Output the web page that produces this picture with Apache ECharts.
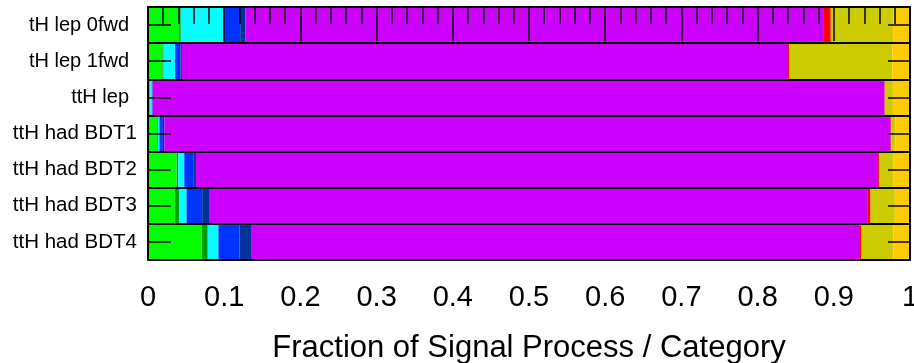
<!DOCTYPE html>
<html>
<head>
<meta charset="utf-8">
<script src="https://cdn.jsdelivr.net/npm/echarts@6/dist/echarts.min.js"></script>
<style>
  html, body { margin: 0; padding: 0; background: #ffffff; }
  #chart { width: 914px; height: 363px; }
</style>
</head>
<body>
<div id="chart"></div>
<script>
// Event categories, top to bottom
const categories = [
  'tH lep 0fwd', 'tH lep 1fwd', 'ttH lep',
  'ttH had BDT1', 'ttH had BDT2', 'ttH had BDT3', 'ttH had BDT4'
];

// Fraction of each signal process in every category (stacked left to right)
const ggH   = [0.041, 0.019,  0.002,  0.012,  0.0376, 0.0354, 0.0705];
const VBF   = [0.002, 0.0015, 0.001,  0.001,  0.002,  0.0052, 0.0079];
const WH    = [0.056, 0.015,  0.002,  0.002,  0.008,  0.010,  0.014];
const ZH    = [0.022, 0.007,  0.0005, 0.0045, 0.0118, 0.0205, 0.0276];
const ggZH  = [0.007, 0.002,  0.0005, 0.002,  0.0035, 0.010,  0.0162];
const ttH   = [0.758, 0.7955, 0.9605, 0.953,  0.8953, 0.8627, 0.797];
const bbH   = [0.010, 0.0015, 0.0005, 0.001,  0.0013, 0.0044, 0.0026];
const tHq   = [0.082, 0.1355, 0.0105, 0.0055, 0.0185, 0.0318, 0.0424];
const tHW   = [0.022, 0.023,  0.0225, 0.019,  0.022,  0.020,  0.0218];

// Bottom axis tick labels, one per 0.1 step
const xTickLabels = ['0', '0.1', '0.2', '0.3', '0.4', '0.5', '0.6', '0.7', '0.8', '0.9', '1'];

const processes = [
  { name: 'ggH',  values: ggH,  color: '#00ff00' },
  { name: 'VBF',  values: VBF,  color: '#009a00' },
  { name: 'WH',   values: WH,   color: '#00ffff' },
  { name: 'ZH',   values: ZH,   color: '#0033ff' },
  { name: 'ggZH', values: ggZH, color: '#003399' },
  { name: 'ttH',  values: ttH,  color: '#cc00ff' },
  { name: 'bbH',  values: bbH,  color: '#ff0000' },
  { name: 'tHq',  values: tHq,  color: '#cccc00' },
  { name: 'tHW',  values: tHW,  color: '#ffcc00' }
];

const FONT = '"Liberation Sans", Arial, Helvetica, sans-serif';
const black = '#000000';

const chart = echarts.init(document.getElementById('chart'), null, { renderer: 'canvas' });

const option = {
  animation: false,
  backgroundColor: '#ffffff',
  textStyle: { fontFamily: FONT },
  grid: {
    left: 148, right: 4, top: 7, bottom: 103,
    containLabel: false,
    outerBoundsMode: 'none'
  },
  xAxis: [
    {
      type: 'value',
      position: 'bottom',
      min: 0, max: 1, interval: 0.1,
      z: 10,
      axisLine: { show: true, onZero: false, lineStyle: { color: black, width: 1.5 } },
      axisTick: { show: false },
      splitLine: { show: false },
      axisLabel: {
        show: true,
        margin: 23,
        fontSize: 29,
        color: black,
        fontFamily: FONT,
        showMinLabel: true,
        showMaxLabel: true,
        formatter: (v, i) => xTickLabels[i]
      },
      name: 'Fraction of Signal Process / Category',
      nameLocation: 'middle',
      nameGap: 73,
      nameTextStyle: { fontSize: 31, color: black, fontFamily: FONT }
    },
    {
      type: 'value',
      position: 'top',
      min: 0, max: 1, interval: 0.1,
      z: 10,
      axisLine: { show: true, onZero: false, lineStyle: { color: black, width: 2 } },
      axisTick: { show: true, inside: true, length: 34, lineStyle: { color: black, width: 1.5 } },
      minorTick: { show: true, splitNumber: 5, length: 17, lineStyle: { color: black, width: 1.5 } },
      axisLabel: { show: false },
      splitLine: { show: false }
    }
  ],
  yAxis: [
    {
      type: 'category',
      data: categories,
      inverse: true,
      position: 'left',
      z: 10,
      axisLine: { show: true, onZero: false, lineStyle: { color: black, width: 2 } },
      axisTick: { show: true, inside: true, alignWithLabel: true, length: 23, lineStyle: { color: black, width: 1.5 } },
      splitLine: { show: true, lineStyle: { color: black, width: 2 } },
      axisLabel: {
        show: true,
        margin: 11,
        color: black,
        fontSize: 20,
        fontFamily: FONT,
        formatter: (v) => (v.indexOf('BDT') < 0 ? '{s|' + v + '}' : '{n|' + v + '}'),
        rich: {
          n: { fontSize: 20.5, color: black, fontFamily: FONT },
          s: { fontSize: 20, color: black, fontFamily: FONT, padding: [0, 8, 0, 0] }
        }
      }
    },
    {
      type: 'category',
      data: categories,
      inverse: true,
      position: 'right',
      z: 10,
      axisLine: { show: true, onZero: false, lineStyle: { color: black, width: 2 } },
      axisTick: { show: true, inside: true, alignWithLabel: true, length: 22, lineStyle: { color: black, width: 1.5 } },
      splitLine: { show: false },
      axisLabel: { show: false }
    }
  ],
  series: processes.map((p) => ({
    name: p.name,
    type: 'bar',
    stack: 'fraction',
    xAxisIndex: 0,
    yAxisIndex: 0,
    barWidth: '100%',
    barCategoryGap: '0%',
    data: p.values,
    itemStyle: { color: p.color, borderWidth: 0 },
    emphasis: { disabled: true }
  }))
};

chart.setOption(option);
</script>
</body>
</html>
